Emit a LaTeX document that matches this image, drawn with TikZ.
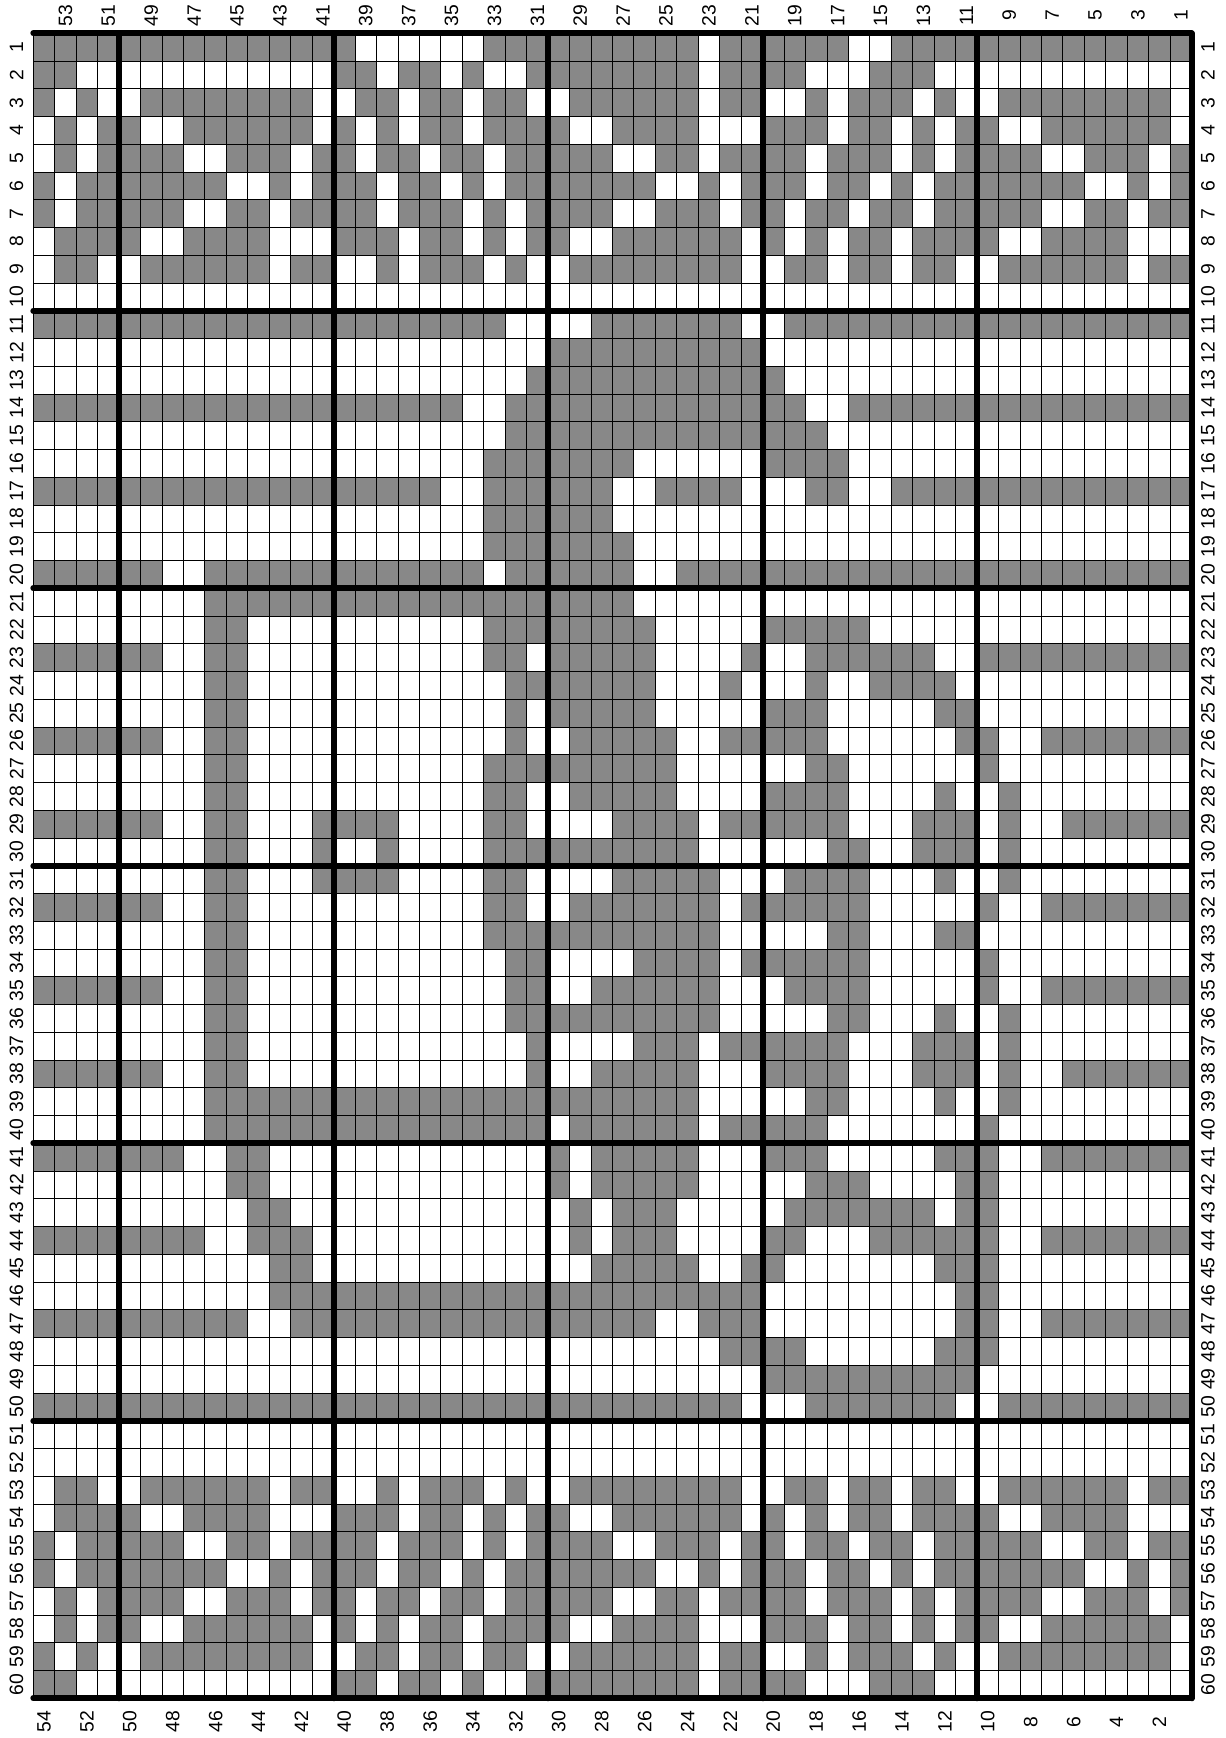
\documentclass[tikz,border=0pt]{standalone}
\usepackage{fontspec}
\setmainfont{Liberation Sans}
\definecolor{chartGray}{HTML}{888888}

% one chart row: x = filled cell, - = empty cell, | is skipped
\newcount\cellcol
\newcommand\cellrow[2]{\def\currow{#1}\cellcol=0 \cellscan#2\relax}
\def\cellscan#1{%
  \ifx#1\relax\else
    \ifx#1x\fill[cell] (\the\cellcol,-\currow) rectangle ++(1,1);\fi
    \ifx#1|\else\advance\cellcol by 1 \fi
    \expandafter\cellscan
  \fi}

\begin{document}
\begin{tikzpicture}[x=0.429cm,y=0.555cm,
    cell/.style={fill=chartGray},
    gridline/.style={line width=0.5pt,black},
    boldline/.style={line width=3.4pt,black,line cap=round},
    numlabel/.style={rotate=90,inner sep=0pt,font=\fontsize{11}{13}\selectfont}]
\useasboundingbox (-0.666cm,0.666cm) rectangle (23.834cm,-34.094cm);

% cells, left column is stitch 54
\cellrow{1}{xxxx|xxxxxxxxxx|x------xxx|xxxxxxx-xx|xxxx--xxxx|xxxxxxxxxx}
\cellrow{2}{xx--|----------|xx-xx-x--x|xxxxxxx-xx|xx---xxx--|----------}
\cellrow{3}{x-x-|-xxxxxxxx-|-xx-xx-xx-|-xxxxxx-xx|--x-xxx-x-|-xxxxxxxx-}
\cellrow{4}{-x-x|x--xxxxxx-|x-x-xx-xxx|x--xxxx---|xxx-xx-x-x|x--xxxxxx-}
\cellrow{5}{-x-x|xxx--xxx-x|x-xx-xx-xx|xxx--xx-xx|xx-xxx-x-x|xxx--xxx-x}
\cellrow{6}{x-xx|xxxxx--x-x|xx-xx-x-xx|xxxxx--x-x|xx-xx-x-xx|xxxxx--x-x}
\cellrow{7}{x-xx|xxx--xx-xx|xx-xxx-x-x|xxx--xxx-x|x-xx-xx-xx|xxx--xx-xx}
\cellrow{8}{-xxx|x--xxxx---|xxx-xx-x-x|x--xxxxxx-|x-x-xx-xxx|x--xxxx---}
\cellrow{9}{-xx-|-xxxxxx-xx|--x-xxx-x-|-xxxxxxxx-|-xx-xx-xx-|-xxxxxx-xx}
\cellrow{11}{xxxx|xxxxxxxxxx|xxxxxxxx--|--xxxxxxx-|-xxxxxxxxx|xxxxxxxxxx}
\cellrow{12}{----|----------|----------|xxxxxxxxxx|----------|----------}
\cellrow{13}{----|----------|---------x|xxxxxxxxxx|x---------|----------}
\cellrow{14}{xxxx|xxxxxxxxxx|xxxxxx--xx|xxxxxxxxxx|xx--xxxxxx|xxxxxxxxxx}
\cellrow{15}{----|----------|--------xx|xxxxxxxxxx|xxx-------|----------}
\cellrow{16}{----|----------|-------xxx|xxxx------|xxxx------|----------}
\cellrow{17}{xxxx|xxxxxxxxxx|xxxxx--xxx|xxx--xxxx-|--xx--xxxx|xxxxxxxxxx}
\cellrow{18}{----|----------|-------xxx|xxx-------|----------|----------}
\cellrow{19}{----|----------|-------xxx|xxxx------|----------|----------}
\cellrow{20}{xxxx|xx--xxxxxx|xxxxxxx-xx|xxxx--xxxx|xxxxxxxxxx|xxxxxxxxxx}
\cellrow{21}{----|----xxxxxx|xxxxxxxxxx|xxxx------|----------|----------}
\cellrow{22}{----|----xx----|-------xxx|xxxxx-----|xxxxx-----|----------}
\cellrow{23}{xxxx|xx--xx----|-------xx-|xxxxx----x|--xxxxxx--|xxxxxxxxxx}
\cellrow{24}{----|----xx----|--------xx|xxxxx---x-|--x--xxxx-|----------}
\cellrow{25}{----|----xx----|--------x-|xxxxx-----|xxx-----xx|----------}
\cellrow{26}{xxxx|xx--xx----|--------x-|-xxxxx--xx|xxx------x|x--xxxxxxx}
\cellrow{27}{----|----xx----|-------xxx|xxxxxx----|--xx------|x---------}
\cellrow{28}{----|----xx----|-------xx-|-xxxxx----|xxxx----x-|-x--------}
\cellrow{29}{xxxx|xx--xx---x|xxx----xx-|---xxxx-xx|xxxx---xxx|-x--xxxxxx}
\cellrow{30}{----|----xx---x|--x----xxx|xxxxxxx---|---xx--xxx|-x--------}
\cellrow{31}{----|----xx---x|xxx----xx-|---xxxxx--|-xxxx---x-|-x--------}
\cellrow{32}{xxxx|xx--xx----|-------xx-|-xxxxxxx-x|xxxxx-----|x--xxxxxxx}
\cellrow{33}{----|----xx----|-------xxx|xxxxxxxx--|---xx---xx|----------}
\cellrow{34}{----|----xx----|--------xx|----xxxx-x|xxxxx-----|x---------}
\cellrow{35}{xxxx|xx--xx----|--------xx|--xxxxxx--|-xxxx-----|x--xxxxxxx}
\cellrow{36}{----|----xx----|--------xx|xxxxxxxx--|---xx---x-|-x--------}
\cellrow{37}{----|----xx----|---------x|----xxx-xx|xxxx---xxx|-x--------}
\cellrow{38}{xxxx|xx--xx----|---------x|--xxxxx---|xxxx---xxx|-x--xxxxxx}
\cellrow{39}{----|----xxxxxx|xxxxxxxxxx|xxxxxxx---|--xx----x-|-x--------}
\cellrow{40}{----|----xxxxxx|xxxxxxxxxx|-xxxxxx-xx|xxx-------|x---------}
\cellrow{41}{xxxx|xxx--xx---|----------|x-xxxxx---|xxx-----xx|x--xxxxxxx}
\cellrow{42}{----|-----xx---|----------|x-xxxxx---|--xxx----x|x---------}
\cellrow{43}{----|------xx--|----------|-x-xxx----|-xxxxxxx-x|x---------}
\cellrow{44}{xxxx|xxxx--xxx-|----------|-x-xxx----|xx---xxxxx|x--xxxxxxx}
\cellrow{45}{----|-------xx-|----------|--xxxxx--x|x-------xx|x---------}
\cellrow{46}{----|-------xxx|xxxxxxxxxx|xxxxxxxxxx|---------x|x---------}
\cellrow{47}{xxxx|xxxxxx--xx|xxxxxxxxxx|xxxxx--xxx|---------x|x--xxxxxxx}
\cellrow{48}{----|----------|----------|--------xx|xx------xx|x---------}
\cellrow{49}{----|----------|----------|----------|xxxxxxxxxx|----------}
\cellrow{50}{xxxx|xxxxxxxxxx|xxxxxxxxxx|xxxxxxxxx-|--xxxxxxx-|-xxxxxxxxx}
\cellrow{53}{-xx-|-xxxxxx-xx|--x-xxx-x-|-xxxxxxxx-|-xx-xx-xx-|-xxxxxx-xx}
\cellrow{54}{-xxx|x--xxxx---|xxx-xx-x-x|x--xxxxxx-|x-x-xx-xxx|x--xxxx---}
\cellrow{55}{x-xx|xxx--xx-xx|xx-xxx-x-x|xxx--xxx-x|x-xx-xx-xx|xxx--xx-xx}
\cellrow{56}{x-xx|xxxxx--x-x|xx-xx-x-xx|xxxxx--x-x|xx-xx-x-xx|xxxxx--x-x}
\cellrow{57}{-x-x|xxx--xxx-x|x-xx-xx-xx|xxx--xx-xx|xx-xxx-x-x|xxx--xxx-x}
\cellrow{58}{-x-x|x--xxxxxx-|x-x-xx-xxx|x--xxxx---|xxx-xx-x-x|x--xxxxxx-}
\cellrow{59}{x-x-|-xxxxxxxx-|-xx-xx-xx-|-xxxxxx-xx|--x-xxx-x-|-xxxxxxxx-}
\cellrow{60}{xx--|----------|xx-xx-x--x|xxxxxxx-xx|xx---xxx--|----------}

% grid
\foreach \i in {0,...,54} \draw[gridline] (\i,0) -- (\i,-60);
\foreach \j in {0,...,60} \draw[gridline] (0,-\j) -- (54,-\j);
\foreach \i in {4,14,...,54} \draw[boldline] (\i,0) -- (\i,-60);
\foreach \j in {0,10,...,60} \draw[boldline] (0,-\j) -- (54,-\j);

% stitch and row numbers
\foreach \k in {1,3,...,53} \node[numlabel] (top\k) at (54.5-\k,0.64) {\k};
\foreach \k in {2,4,...,54} \node[numlabel] (bot\k) at (54.5-\k,-60.85) {\k};
\foreach \r in {1,...,60} {
  \node[numlabel] (left\r) at (-0.78,0.5-\r) {\r};
  \node[numlabel] (right\r) at (54.76,0.5-\r) {\r};
}
\end{tikzpicture}
\end{document}
